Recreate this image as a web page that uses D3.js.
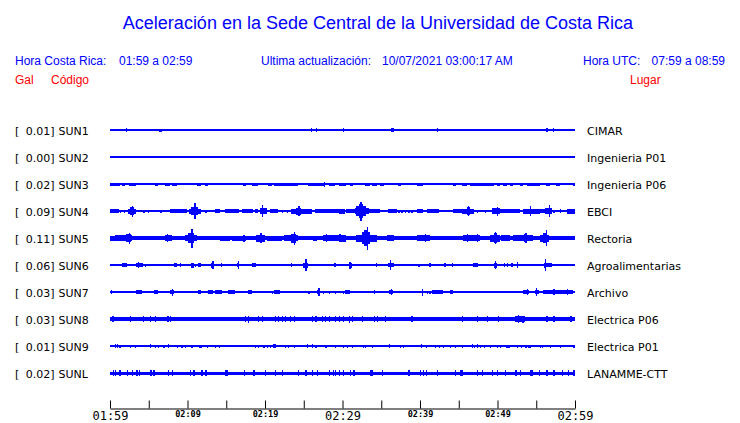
<!DOCTYPE html>
<html><head><meta charset="utf-8">
<script src="https://cdn.jsdelivr.net/npm/d3@7"></script>
<style>
html,body{margin:0;padding:0;background:#fff;}
svg{display:block;}
</style></head>
<body>
<script>
// ---------------- data ----------------
const titleText = "Aceleración en la Sede Central de la Universidad de Costa Rica";
const stations = ["SUN1","SUN2","SUN3","SUN4","SUN5","SUN6","SUN7","SUN8","SUN9","SUNL"];
const peakGal = ["0.01","0.00","0.02","0.09","0.11","0.06","0.03","0.03","0.01","0.02"];
const places = ["CIMAR","Ingenieria P01","Ingenieria P06","EBCI","Rectoria","Agroalimentarias","Archivo","Electrica P06","Electrica P01","LANAMME-CTT"];
const baseAmp = [0.6,0.6,0.7,0.7,1.6,0.6,0.6,1.8,0.6,1.5];
const majorTicks = ["01:59","02:29","02:59"];
// events: [startMinute, endMinute, halfAmplitude] minutes after 01:59
const sun1 = [[2.1,2.1,2],[6.3,6.7,1.5],[8.3,8.3,1],[25.9,25.9,1.7],[26.6,26.6,1.7],[30.0,30.0,1.7],[36.2,36.6,1.6],[42.2,42.2,1.7],[56.3,56.3,1.7],[57.1,57.1,1.7]];
const sun2 = [];
const sun3 = [[0,1.3,1.5],[1.5,1.9,1.5],[2.4,3.4,1.5],[3.7,3.9,1.3],[4.7,4.7,1.3],[5.8,6.2,1.5],[7.1,7.7,1.5],[8.0,8.6,1.5],[9.5,9.5,1.2],[11.2,11.8,1.5],[12.3,12.7,1.5],[14.2,14.2,1.2],[16.6,16.6,1.2],[17.2,17.6,1.5],[18.3,19.1,1.5],[20.4,20.9,1.5],[21.1,24.3,1.5],[25.6,27.7,1.5],[27.6,27.6,2.5],[28.2,29.0,1.5],[29.5,30.5,1.5],[31.0,31.4,1.5],[31.8,31.8,1.2],[32.9,33.6,1.5],[33.8,34.4,1.5],[34.8,35.3,1.5],[36.1,36.1,1.2],[37.2,37.6,1.5],[39.6,40.4,1.5],[42.6,42.6,1.2],[43.4,43.4,1.2],[44.3,44.7,1.5],[45.4,46.0,1.5],[46.5,49.5,1.5],[49.9,50.3,1.5],[50.7,51.2,1.5],[51.6,52.0,1.5],[52.9,53.3,1.5],[53.8,55.5,1.5],[56.3,56.8,1.5],[57.6,58.1,1.5],[59.8,60,1.5]];
const sun4 = [[0,1.1,2],[1.3,1.3,1.5],[1.8,1.8,1.5],[2.3,3.4,2.5],[2.6,3.1,4],[2.8,2.8,5.5],[4.3,4.3,1.5],[4.9,4.9,1.5],[6.5,6.5,1.5],[7.7,9.9,2],[10.2,11.8,2.5],[10.5,11.3,4],[10.8,11.0,6],[10.9,10.9,8],[12.3,12.3,1.5],[13.5,14.2,2],[14.8,16.6,2],[17.0,18.5,2],[18.7,19.1,2],[19.4,20.3,3],[19.6,19.8,6],[20.6,21.7,2],[22.2,22.2,1.5],[22.8,22.8,1.5],[23.4,26.0,2.5],[24.0,24.7,3.5],[24.3,24.3,5],[26.5,29.5,2],[29.5,30.3,2.5],[30.5,31.6,2],[31.6,33.4,3],[31.8,33.0,5],[32.1,32.6,7],[32.3,32.3,9.5],[32.9,34.8,2],[35.9,37.0,2],[37.2,37.2,1.5],[37.6,37.6,1.5],[38.1,38.1,1.5],[38.5,38.5,1.5],[38.9,38.9,1.5],[39.6,40.4,2],[40.9,42.4,2],[44.3,45.4,2],[45.4,47.0,2.5],[46.0,46.4,4],[46.2,46.2,5],[47.3,47.3,1.5],[48.4,48.4,1.5],[49.3,50.3,3],[49.9,49.9,4.5],[50.3,52.9,2],[53.3,55.5,2.5],[54.2,54.2,5],[55.5,56.1,2],[56.1,57.0,3],[56.6,56.6,6],[57.2,57.2,1.5],[58.1,58.1,2],[59.0,60,2.5]];
const sun5 = [[0,0.6,2.5],[0.6,2.8,3],[2.0,2.7,4],[2.4,2.4,5.5],[7.1,8.0,3],[7.3,7.3,4],[9.7,11.2,3],[10.0,10.9,5],[10.5,10.5,9.5],[11.4,14.0,2],[14.2,15.5,2.5],[15.7,17.6,2.5],[17.2,17.2,3.5],[18.9,20.0,3.5],[19.4,19.4,5],[20.2,22.2,2.5],[22.4,24.3,3],[23.4,24.0,4.5],[23.7,23.7,6.5],[24.3,26.0,2],[26.2,26.7,2.5],[27.5,30.3,3],[27.9,27.9,4],[29.6,29.6,4],[29.7,30.5,3.5],[31.0,31.8,2],[31.8,34.4,3.5],[32.5,33.6,6],[32.8,33.3,8],[33.1,33.1,11.5],[34.4,35.7,2],[35.7,36.6,3],[36.6,38.5,2],[39.6,41.3,3],[40.6,40.6,4],[45.6,47.7,3],[46.0,46.0,4],[47.3,47.3,4],[49.0,50.3,3.5],[49.5,49.9,5],[49.7,49.7,6],[50.5,51.6,3],[52.0,54.6,3],[53.4,53.8,4],[53.6,53.6,5],[55.5,56.6,3.5],[55.9,56.4,5],[56.2,56.2,8],[56.6,60,2]];
const sun6 = [[1.5,2.2,1.8],[3.4,4.3,2],[3.6,3.6,3],[4.5,4.5,1.5],[8.2,8.6,1.8],[9.0,9.2,1.8],[10.5,10.8,2.5],[11.0,11.0,1.5],[11.4,11.8,1.8],[13.0,13.4,2.5],[13.2,13.2,4],[14.3,14.5,1.8],[16.4,16.7,2],[16.5,16.5,4],[18.3,18.9,1.8],[23.3,23.5,2],[24.9,25.6,2.5],[25.2,25.2,6],[28.9,29.1,1.8],[30.8,31.2,2.5],[30.9,30.9,3.5],[32.7,32.7,1],[34.3,34.5,2],[35.9,36.6,2],[36.1,36.1,5],[39.8,39.8,1.5],[41.2,41.4,1.8],[43.1,43.3,1.8],[44.1,44.3,1.8],[46.9,47.5,1.8],[49.5,49.9,2.5],[49.7,49.7,4],[50.8,50.8,1.8],[51.2,51.2,1.8],[51.8,52.0,1.8],[52.5,52.5,3],[56.0,56.3,2.5],[56.1,56.1,6],[56.3,57.0,1.8]];
const sun7 = [[0.1,0.1,2],[3.0,3.0,1],[3.4,4.1,1.8],[4.3,4.3,1.2],[5.7,6.2,1.8],[7.7,8.2,2.2],[8.0,8.0,3.5],[8.4,8.4,1.2],[11.4,11.8,1.8],[12.7,13.3,1.8],[13.5,14.4,1.8],[14.6,14.6,1.2],[15.2,16.1,1.8],[16.8,16.8,1],[17.8,18.3,1.8],[18.5,18.5,1.2],[20.3,20.3,1.2],[20.9,20.9,1.5],[21.1,21.9,1.8],[24.5,24.5,1],[25.6,25.6,1.5],[26.7,27.1,2.2],[26.9,26.9,4],[27.5,27.5,1.5],[28.2,28.2,1.5],[29.0,29.0,1.5],[30.0,30.0,1.5],[30.3,31.0,1.8],[34.0,34.2,1.8],[34.8,34.8,1.2],[36.0,36.5,2.2],[36.2,36.2,3],[40.2,40.2,3.5],[40.9,40.9,1.5],[41.2,41.2,1.5],[41.5,43.0,1.8],[43.9,44.3,2.2],[53.3,54.0,1.8],[53.8,53.8,3],[54.8,55.4,2.2],[55.0,55.0,4],[55.9,59.8,1.8],[57.2,57.2,3],[59.0,59.0,3]];
const sun8 = [[0.3,0.3,3],[2.6,2.6,2.7],[4.2,4.2,2.7],[5.1,5.1,2.7],[5.8,5.8,2.7],[7.4,7.4,2.7],[7.7,7.7,2.7],[17.4,17.4,2.7],[17.8,17.8,3.5],[19.1,19.1,2.7],[19.6,19.6,2.7],[21.3,21.3,2.7],[21.7,21.7,3],[22.2,22.2,2.7],[22.6,22.6,2.7],[23.2,23.2,2.7],[23.7,23.7,2.7],[26.0,26.0,2.7],[26.5,26.5,3],[27.3,27.3,2.7],[27.7,27.7,2.7],[28.2,28.2,2.7],[29.0,29.0,2.7],[29.5,29.5,2.7],[30.1,30.1,2.7],[30.8,30.8,3.5],[31.2,31.2,3],[32.5,32.5,2.7],[34.0,34.0,2.7],[34.4,34.4,2.7],[35.5,35.5,3],[38.9,38.9,2.7],[45.4,45.4,2.7],[47.3,47.3,2.7],[48.6,48.6,2.7],[50.1,50.1,3],[52.3,53.5,3],[52.6,52.6,4],[53.2,53.2,3.5],[56.3,56.3,2.7],[57.2,57.2,2.7],[59.4,59.4,2.7]];
const sun9 = [[0.6,0.6,1.8],[0.9,0.9,1.8],[1.2,1.2,1.5],[2.6,2.6,1.5],[3.2,3.2,1.5],[5.1,5.1,1.8],[5.8,5.8,1.5],[6.2,6.2,1.5],[6.9,6.9,1.5],[7.5,7.5,1.8],[8.6,8.6,1.5],[9.2,9.2,1.5],[9.7,9.7,1.5],[10.5,10.5,1.5],[11.5,11.9,1.5],[12.5,12.5,1.5],[13.5,13.5,1.5],[14.0,14.0,1.5],[18.7,18.7,1.5],[19.1,19.1,1.5],[19.8,19.8,1.5],[20.2,20.2,1.5],[20.6,20.6,1.5],[21.0,21.4,1.8],[22.6,22.6,1.5],[23.0,23.0,1.5],[23.7,23.8,1.5],[25.4,25.4,1.8],[26.0,26.0,1.8],[26.5,26.5,1.5],[27.7,27.7,1.5],[27.9,27.9,1.5],[29.0,29.0,1.5],[30.1,30.1,1.5],[30.6,30.6,1.5],[31.2,31.2,1.5],[32.6,32.6,1.5],[32.9,32.9,1.5],[33.8,33.8,1.5],[36.0,36.0,1.8],[37.4,37.4,1.5],[37.8,37.8,1.5],[40.1,40.1,1.8],[40.8,40.8,1.5],[41.9,41.9,1.5],[42.4,42.4,1.5],[43.0,43.0,1.5],[43.9,43.9,1.5],[44.5,44.5,1.5],[45.4,45.4,1.5],[46.7,46.7,1.8],[47.0,47.0,1.5],[47.3,47.3,1.8],[47.7,47.7,1.5],[48.2,48.2,1.5],[49.0,49.0,1.5],[49.9,49.9,1.5],[50.3,50.3,1.5],[51.1,51.6,1.5],[52.5,52.5,1.5],[53.0,53.0,1.5],[53.6,53.6,1.5],[53.9,54.3,1.5],[55.5,55.5,1.5],[55.7,55.7,1.5],[56.8,56.8,1.5],[58.1,58.1,1.5],[59.8,59.8,1.5]];
const sunL = [[0.4,0.4,2.7],[0.6,0.6,3],[1.1,1.1,2.7],[1.2,1.2,3],[2.2,2.2,2.7],[2.8,2.8,2.7],[3.4,3.4,2.7],[3.7,3.7,2.7],[5.2,5.2,2.7],[5.6,5.6,2.7],[7.5,7.5,2.7],[8.0,8.0,2.7],[10.3,10.3,2.7],[10.75,10.75,2.7],[11.8,11.8,2.7],[12.3,12.3,2.7],[14.8,15.2,2.8],[17.3,17.3,2.7],[18.5,18.5,2.7],[20.0,20.0,2.7],[21.3,21.3,2.7],[22.2,22.2,2.7],[24.2,24.2,2.7],[25.2,25.2,2.7],[26.0,26.0,2.7],[26.7,26.7,2.7],[28.2,28.2,2.7],[28.8,28.8,2.7],[29.0,29.0,2.7],[29.5,29.5,2.7],[30.0,30.0,2.7],[31.0,31.0,2.7],[31.4,31.4,2.7],[33.6,33.6,2.7],[33.8,33.8,2.7],[35.1,35.1,2.7],[38.5,38.5,2.7],[40.0,40.0,2.7],[40.4,40.4,2.7],[40.8,40.8,2.7],[42.2,42.2,2.7],[44.5,44.5,2.7],[45.2,45.6,2.8],[47.3,47.3,2.7],[48.0,48.0,2.7],[49.3,49.3,2.7],[49.9,49.9,2.7],[51.0,51.0,2.7],[52.3,52.3,2.7],[52.9,52.9,2.7],[54.2,54.6,2.8],[55.3,55.3,2.7],[56.3,56.3,2.7],[57.2,57.2,2.7],[58.3,58.3,2.7],[59.1,59.1,2.7],[59.8,59.8,2.7]];
const traces = [sun1,sun2,sun3,sun4,sun5,sun6,sun7,sun8,sun9,sunL];

// ---------------- chart ----------------
const W = 740, H = 423;
const BLUE = "#0000ff", RED = "#ff0000";
const svg = d3.select("body").append("svg").attr("width", W).attr("height", H);

const t0 = new Date(2021, 9, 7, 1, 59), t1 = new Date(2021, 9, 7, 2, 59);
const x = d3.scaleTime().domain([t0, t1]).range([110, 575]);
const tm = m => new Date(t0.getTime() + m * 60000);
const y = d3.scalePoint().domain(stations).range([130, 373]);
const a = d3.scaleLinear().domain([0, 13.5]).range([0, 13.5]);

// title and header
svg.append("text").attr("x", 378).attr("y", 29).attr("text-anchor", "middle")
  .attr("font-family", "Liberation Sans, Arial, sans-serif").attr("font-size", 18)
  .attr("fill", BLUE).text(titleText);
const hdr = (tx, xx, anchor, col, yy) => svg.append("text").attr("x", xx).attr("y", yy)
  .attr("text-anchor", anchor || "start")
  .attr("font-family", "Liberation Sans, Arial, sans-serif").attr("font-size", 12)
  .attr("fill", col).style("white-space", "pre").text(tx);
hdr("Hora Costa Rica:", 15, "start", BLUE, 65);
hdr("01:59 a 02:59", 119, "start", BLUE, 65);
hdr("Ultima actualización:", 261, "start", BLUE, 65);
hdr("10/07/2021 03:00:17 AM", 382, "start", BLUE, 65);
hdr("Hora UTC:", 583, "start", BLUE, 65);
hdr("07:59 a 08:59", 725, "end", BLUE, 65);
hdr("Gal", 15, "start", RED, 84);
hdr("Código", 51, "start", RED, 84);
hdr("Lugar", 630, "start", RED, 84);

// rows
const rows = svg.append("g").selectAll("g").data(stations).join("g")
  .attr("transform", d => `translate(0,${y(d)})`);
rows.append("text").attr("x", 15).attr("y", 4.5).attr("font-family", "DejaVu Sans, sans-serif")
  .attr("font-size", 11).attr("fill", "#000").text("[");
rows.append("text").attr("x", 54.5).attr("y", 4.5).attr("text-anchor", "end").attr("font-family", "DejaVu Sans, sans-serif")
  .attr("font-size", 11).attr("fill", "#000").text((d, i) => peakGal[i] + "]");
rows.append("text").attr("x", 58.5).attr("y", 4.5).attr("font-family", "DejaVu Sans, sans-serif")
  .attr("font-size", 11).attr("fill", "#000").text(d => d);
rows.append("text").attr("x", 587).attr("y", 4.5).attr("font-family", "DejaVu Sans, sans-serif")
  .attr("font-size", 11).attr("fill", "#000").text((d, i) => places[i]);

// baselines
rows.append("rect").attr("x", x(t0)).attr("width", x(t1) - x(t0))
  .attr("y", (d, i) => -a(baseAmp[i])).attr("height", (d, i) => 2 * a(baseAmp[i]))
  .attr("fill", BLUE).attr("shape-rendering", "crispEdges");
// events
rows.each(function(d, i) {
  d3.select(this).selectAll("rect.ev").data(traces[i]).join("rect").attr("class", "ev")
    .attr("x", e => x(tm(e[0])))
    .attr("width", e => Math.max(1.2, x(tm(e[1])) - x(tm(e[0]))))
    .attr("y", e => -a(e[2]))
    .attr("height", e => 2 * a(e[2]))
    .attr("fill", BLUE).attr("shape-rendering", "crispEdges");
});

// time axis
const fmt = d3.timeFormat("%H:%M");
const isMajor = d => majorTicks.includes(fmt(d));
const tickVals = d3.range(0, 61, 5).map(tm);
const axis = d3.axisBottom(x).tickValues(tickVals).tickSize(-8).tickSizeOuter(0).tickPadding(0)
  .tickFormat(d => ((d - t0) / 60000) % 10 === 0 ? fmt(d) : "");
const ag = svg.append("g").attr("transform", "translate(0,408.5)").call(axis);
ag.select(".domain").attr("stroke", "#000");
ag.selectAll(".tick line").attr("stroke", "#000");
ag.selectAll(".tick text").attr("fill", "#000")
  .attr("font-family", "DejaVu Sans Mono, monospace")
  .attr("font-size", d => isMajor(d) ? 12 : 8.5)
  .attr("font-weight", d => isMajor(d) ? "normal" : "bold")
  .attr("y", d => isMajor(d) ? 11.5 : 8)
  .attr("dy", 0);
</script>
</body></html>
